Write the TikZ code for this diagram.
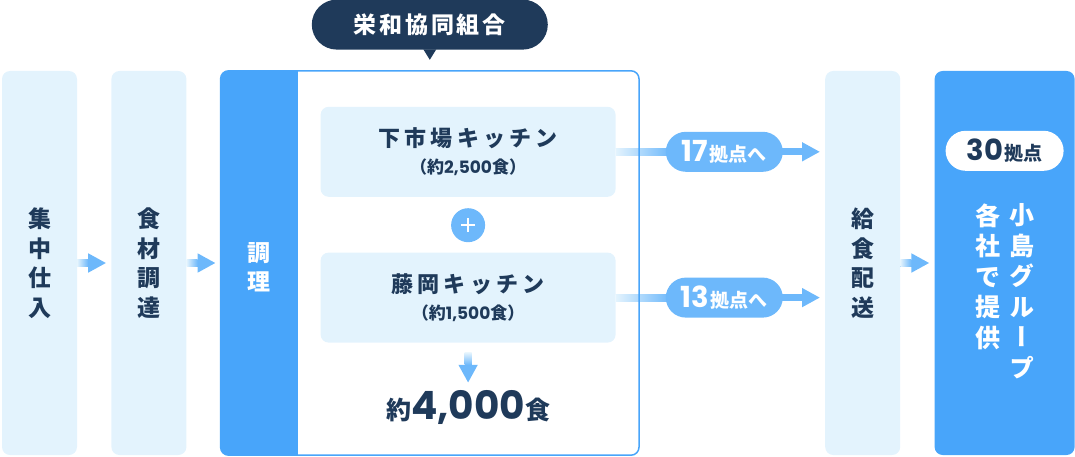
\documentclass[tikz,border=0pt]{standalone}
\usepackage{fontspec}
\setmainfont{Noto Sans CJK JP}
\newfontfamily\numfont{Poppins}
\newfontfamily\vertfont{Noto Sans CJK JP}[RawFeature=+vert]
\usetikzlibrary{arrows.meta,positioning,calc}

\definecolor{paleblue}{HTML}{E3F3FD}
\definecolor{mainblue}{HTML}{48A5FA}
\definecolor{arrowblue}{HTML}{6DB8FB}
\definecolor{navy}{HTML}{1F3A5A}

% shaft fades in from the box it leaves
\newcommand{\flowarrow}[3]{%
  \draw[flowline] (#1) -- (#2);
  \shade[left color=paleblue,right color=arrowblue] ($(#1)+(0,-3.5)$) rectangle ($(#1)+(#3,3.5)$);}
\newcommand{\kitchenname}{\fontsize{22}{24}\selectfont\addfontfeature{LetterSpace=19}}

\begin{document}
\begin{tikzpicture}[x=1pt,y=1pt,node distance=34pt,
  stagebox/.style={fill=paleblue,rounded corners=8pt,minimum width=75pt,minimum height=384pt,inner sep=0pt,align=center,text=navy,font=\bfseries\fontsize{23}{29.5}\selectfont},
  kitchenbox/.style={fill=paleblue,rounded corners=8pt,minimum width=295pt,minimum height=90pt,inner sep=0pt,align=center,text=navy,font=\bfseries\fontsize{17}{27}\selectfont},
  countpill/.style={fill=arrowblue,rounded corners=20pt,minimum width=117pt,minimum height=40pt,inner sep=0pt,text=white,font=\bfseries},
  basepill/.style={countpill,fill=white,minimum width=118pt,text=navy},
  plusdot/.style={circle,fill=arrowblue,minimum size=34pt,inner sep=0pt},
  flowline/.style={arrowblue,line width=7pt,-{Triangle[length=18pt,width=18pt]},shorten >=5pt}]
\useasboundingbox (0,0) rectangle (1075,456);

\node[stagebox] (shuchu) at (39.5,193) {集\\中\\仕\\入};
\node[stagebox] (shokuzai) [right=of shuchu] {食\\材\\調\\達};
\node[minimum width=418pt,minimum height=384pt,inner sep=0pt] (kitchen) [right=of shokuzai] {};
\begin{scope}
  \clip[rounded corners=8pt] (kitchen.south west) rectangle (kitchen.north east);
  \fill[mainblue] (kitchen.south west) rectangle ($(kitchen.north west)+(77,0)$);
\end{scope}
\node[align=center,text=white,font=\bfseries\fontsize{23}{29.5}\selectfont] (chori) at ($(kitchen.west)+(38.5,-4)$) {調\\理};

% union banner
\node[fill=navy,rounded corners=25pt,minimum width=236pt,minimum height=50pt,text=white,
  font=\bfseries\fontsize{23}{23}\selectfont\addfontfeature{LetterSpace=12}] (union) [above=21pt of kitchen] {栄和協同組合};
\fill[navy] ($(union.south)+(-6.5,0.5)$) -- ($(union.south)+(0,-10)$) -- ($(union.south)+(6.5,0.5)$) -- cycle;

% kitchens
\node[kitchenbox] (kitA) at ($(kitchen.north west)+(247.5,-81)$) {{\kitchenname 下市場キッチン}\\（約{\numfont 2,500}食）};
\node[plusdot] (plus) [below=11pt of kitA] {};
\draw[white,line width=1.8pt] ($(plus.center)+(-7,0)$) -- ($(plus.center)+(7,0)$) ($(plus.center)+(0,-7)$) -- ($(plus.center)+(0,7)$);
\node[kitchenbox] (kitB) [below=10pt of plus] {{\kitchenname 藤岡キッチン}\\（約{\numfont 1,500}食）};
\coordinate (sumtop) at ($(kitB.south)+(0,-40)$);
\draw[flowline,shorten >=0pt,shorten <=10pt] (kitB.south) -- (sumtop);
\shade[top color=paleblue,bottom color=arrowblue] ($(kitB.south)+(-3.5,-10)$) rectangle ($(kitB.south)+(3.5,-22)$);
\node[inner sep=0pt,text=navy] (total) at ($(sumtop)+(0,-25)$)
  {{\bfseries\fontsize{25}{25}\selectfont 約}{\numfont\bfseries\fontsize{39}{39}\selectfont 4,000}{\bfseries\fontsize{25}{25}\selectfont 食}};

\node[stagebox] (haiso) [right=186pt of kitchen] {給\\食\\配\\送};
\node[stagebox,fill=mainblue,minimum width=140pt] (kojima) [right=of haiso] {};
\node[basepill] (kyoten) at ($(kojima.north)+(0,-80)$)
  {{\numfont\fontsize{29}{29}\selectfont 30}\,{\fontsize{19}{19}\selectfont 拠点}};
\node[align=center,text=white,font=\vertfont\bfseries\fontsize{25}{30.5}\selectfont] (kojimaA) at ($(kojima.center)+(17,-28)$) {小\\島\\グ\\ル\\ー\\プ};
\node[align=center,text=white,font=\bfseries\fontsize{25}{30.5}\selectfont] (kojimaB) at ($(kojima.center)+(-17,-13.5)$) {各\\社\\で\\提\\供};

% arrows
\flowarrow{shuchu.east}{shokuzai.west}{11}
\flowarrow{shokuzai.east}{kitchen.west}{11}
\flowarrow{haiso.east}{kojima.west}{11}
\flowarrow{kitA.east}{kitA.east -| haiso.west}{55}
\flowarrow{kitB.east}{kitB.east -| haiso.west}{55}
\node[countpill] (toA) at ($(kitA.east)+(108.5,0)$)
  {{\numfont\fontsize{29}{29}\selectfont 17}\,{\fontsize{19}{19}\selectfont 拠点へ}};
\node[countpill] (toB) at ($(kitB.east)+(108.5,0)$)
  {{\numfont\fontsize{29}{29}\selectfont 13}\,{\fontsize{19}{19}\selectfont 拠点へ}};

\draw[mainblue,line width=1.5pt,rounded corners=8pt] (kitchen.south west) rectangle (kitchen.north east);
\end{tikzpicture}
\end{document}
